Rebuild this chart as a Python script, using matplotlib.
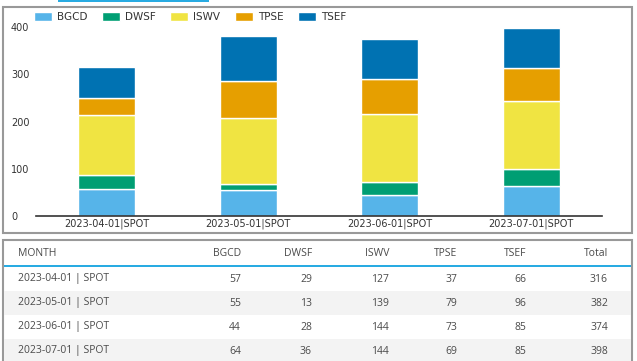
import matplotlib
matplotlib.use("Agg")
import numpy as np
from matplotlib import pyplot as plt
from matplotlib.patches import Rectangle

months = ["2023-04-01|SPOT", "2023-05-01|SPOT", "2023-06-01|SPOT", "2023-07-01|SPOT"]
table_months = ["2023-04-01 | SPOT", "2023-05-01 | SPOT", "2023-06-01 | SPOT", "2023-07-01 | SPOT"]
series = ["BGCD", "DWSF", "ISWV", "TPSE", "TSEF"]
bgcd = [57, 55, 44, 64]
dwsf = [29, 13, 28, 36]
iswv = [127, 139, 144, 144]
tpse = [37, 79, 73, 69]
tsef = [66, 96, 85, 85]
colors = ["#56B4E9", "#009E73", "#F0E442", "#E69F00", "#0072B2"]
yticks = [0, 100, 200, 300, 400]

W, H = 637, 361
fig = plt.figure(figsize=(W / 100, H / 100), dpi=100)


def fx(px):
    return px / W


def fy(py):
    return 1 - py / H


# chart panel
fig.patches.append(Rectangle((fx(3), fy(233)), fx(629), 226 / H, transform=fig.transFigure,
                             fill=False, edgecolor="#999999", lw=1.5))
fig.patches.append(Rectangle((fx(58), fy(2)), fx(151), 2.5 / H, transform=fig.transFigure,
                             color="#29abe2", lw=0))

ax = fig.add_axes([fx(36), fy(216), fx(566), 189 / H])
data = [bgcd, dwsf, iswv, tpse, tsef]
x = np.arange(len(months))
bottom = np.zeros(len(months))
for name, vals, c in zip(series, data, colors):
    ax.bar(x, vals, 0.4, bottom=bottom, color=c, edgecolor="white", linewidth=1, label=name)
    bottom += np.array(vals)

ax.set_xlim(-0.5, 3.5)
ax.set_ylim(0, 400)
ax.set_yticks(yticks)
ax.set_xticks(x)
ax.set_xticklabels(months)
for s in ["top", "right", "left"]:
    ax.spines[s].set_visible(False)
ax.spines["bottom"].set_color("#333333")
ax.spines["bottom"].set_linewidth(1.2)
ax.tick_params(axis="both", length=0, labelsize=7, labelcolor="#333333")
ax.tick_params(axis="x", pad=2)
ax.tick_params(axis="y", pad=18)
for lab in ax.get_yticklabels():
    lab.set_horizontalalignment("left")

leg = fig.legend(loc="upper left", bbox_to_anchor=(fx(34), fy(12)), ncol=5, frameon=False,
                 fontsize=7.5, handlelength=1.75, handleheight=1.0, columnspacing=1.4,
                 handletextpad=0.45, borderaxespad=0, borderpad=0)
for t in leg.get_texts():
    t.set_color("#333333")

# table panel
fig.patches.append(Rectangle((fx(3), fy(370)), fx(629), 130 / H, transform=fig.transFigure,
                             fill=False, edgecolor="#999999", lw=1.5))
for i in range(len(months)):
    top = 267 + i * 24
    if i % 2 == 1:
        fig.patches.append(Rectangle((fx(4), fy(top + 24)), fx(627), 24 / H,
                                     transform=fig.transFigure, color="#f3f3f3", lw=0))
fig.patches.append(Rectangle((fx(4), fy(267)), fx(627), 2.5 / H, transform=fig.transFigure,
                             color="#29abe2", lw=0))

tfont = dict(family=["Open Sans", "DejaVu Sans"], fontsize=7.5, color="#4a4a4a", va="center")
headers = ["BGCD", "DWSF", "ISWV", "TPSE", "TSEF", "Total"]
col_right = [241, 312, 389, 457, 526, 608]
fig.text(fx(18), fy(254), "MONTH", ha="left", **tfont)
for h, xr in zip(headers, col_right):
    fig.text(fx(xr), fy(254), h, ha="right", **tfont)

totals = [sum(v) for v in zip(*data)]
for i, m in enumerate(table_months):
    yc = 279 + i * 24
    fig.text(fx(18), fy(yc), m, ha="left", **tfont)
    row = [d[i] for d in data] + [totals[i]]
    for v, xr in zip(row, col_right):
        fig.text(fx(xr), fy(yc), str(v), ha="right", **tfont)

fig.savefig("out.png", dpi=100)
